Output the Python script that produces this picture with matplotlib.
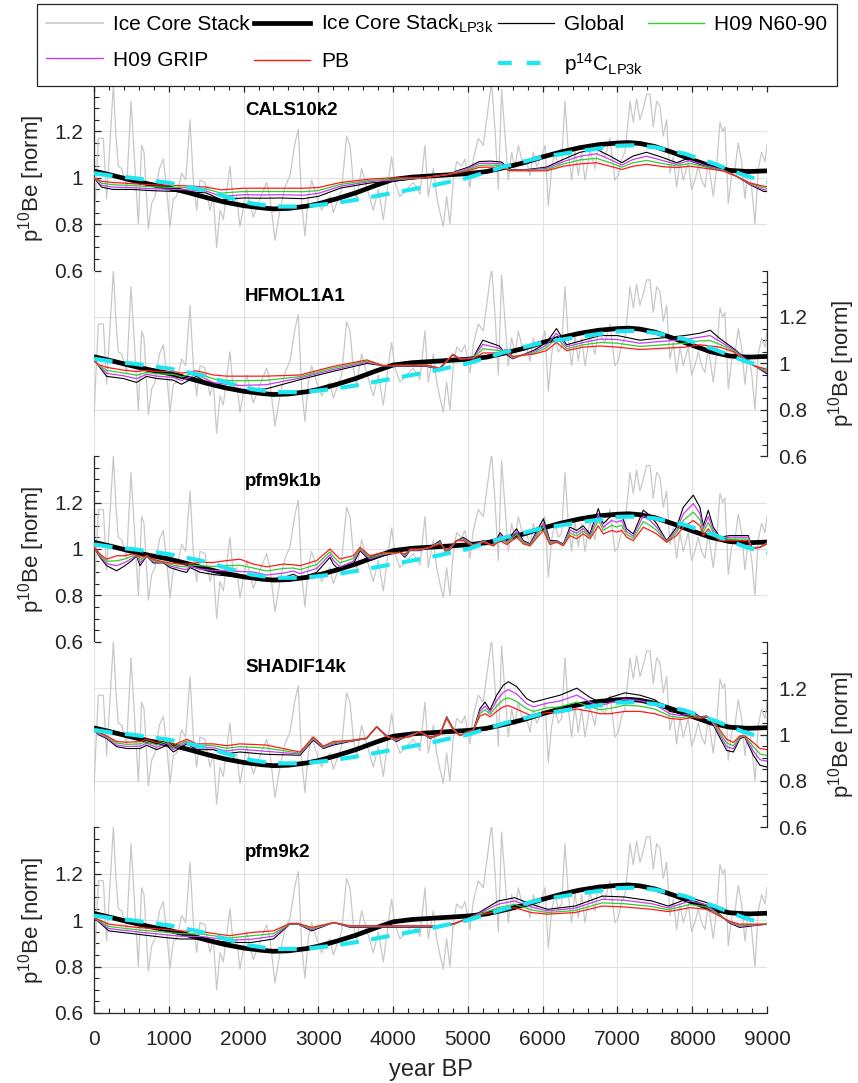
import matplotlib
matplotlib.use('Agg')
import matplotlib.pyplot as plt
from matplotlib.ticker import MultipleLocator, FixedLocator
from matplotlib.lines import Line2D

plt.rcParams['font.family'] = ['Liberation Sans', 'DejaVu Sans']
plt.rcParams['mathtext.fontset'] = 'custom'
plt.rcParams['mathtext.rm'] = 'Liberation Sans'
plt.rcParams['mathtext.it'] = 'Liberation Sans:italic'
plt.rcParams['mathtext.bf'] = 'Liberation Sans:bold'

# ---------------- data ----------------
stack_yr = [0, 25, 58, 125, 169, 259, 294, 325, 370, 437, 495, 548, 593, 637, 669, 727, 771, 816, 874, 927,
            972, 1016, 1061, 1105, 1172, 1226, 1284, 1328, 1373, 1417, 1484, 1551, 1596, 1640, 1685, 1729,
            1818, 1863, 1908, 1952, 2041, 2130, 2220, 2309, 2353, 2420, 2487, 2554, 2621, 2688, 2732, 2777,
            2821, 2866, 2910, 2977, 3044, 3089, 3156, 3200, 3245, 3312, 3378, 3423, 3468, 3512, 3579, 3646,
            3735, 3802, 3869, 3936, 3980, 4025, 4091, 4181, 4270, 4359, 4426, 4470, 4538, 4582, 4627, 4671,
            4716, 4760, 4805, 4850, 4916, 4961, 5028, 5072, 5139, 5206, 5251, 5295, 5318, 5362, 5407, 5451,
            5496, 5540, 5585, 5630, 5674, 5719, 5786, 5830, 5875, 5919, 5986, 6031, 6075, 6120, 6164, 6209,
            6254, 6298, 6343, 6387, 6432, 6476, 6521, 6566, 6632, 6699, 6744, 6788, 6833, 6900, 6967, 7011,
            7056, 7100, 7145, 7167, 7212, 7256, 7301, 7345, 7390, 7435, 7479, 7524, 7568, 7613, 7657, 7702,
            7747, 7791, 7836, 7880, 7947, 7992, 8036, 8081, 8125, 8170, 8215, 8281, 8326, 8371, 8406, 8437,
            8482, 8527, 8571, 8616, 8660, 8705, 8750, 8794, 8839, 8883, 8928, 8973, 9000]
stack_val = [0.77, 0.95, 1.17, 1.17, 0.91, 1.40, 1.18, 1.05, 1.04, 0.96, 1.33, 1.04, 0.80, 1.14, 1.11, 0.78, 0.89, 0.92, 1.04, 1.08,
             0.95, 0.79, 0.91, 0.92, 1.02, 0.99, 1.25, 0.99, 0.86, 0.99, 0.98, 0.86, 0.92, 0.70, 0.86, 0.82,
             1.05, 0.89, 0.92, 0.79, 0.95, 0.83, 0.91, 0.98, 0.92, 0.73, 0.86, 0.96, 1.01, 1.15, 1.21, 0.89,
             0.75, 0.92, 0.99, 0.92, 0.86, 0.89, 0.92, 0.85, 0.89, 0.95, 1.18, 1.14, 0.98, 0.91, 1.04, 0.96,
             0.86, 0.95, 0.82, 0.99, 1.09, 0.98, 0.92, 0.95, 0.98, 0.93, 1.14, 0.92, 1.04, 0.92, 0.85, 0.79,
             0.92, 0.80, 0.99, 1.07, 1.05, 1.08, 0.96, 1.08, 1.17, 1.14, 1.25, 1.36, 1.41, 1.21, 0.95, 1.38,
             1.18, 0.99, 1.11, 1.04, 1.14, 1.08, 1.07, 1.01, 1.11, 1.05, 1.09, 1.14, 0.88, 1.04, 1.11, 1.05,
             1.07, 1.33, 1.11, 0.99, 1.12, 1.01, 1.11, 0.99, 1.12, 1.04, 1.14, 1.11, 1.09, 1.17, 0.99, 1.01,
             1.08, 1.11, 1.25, 1.33, 1.24, 1.34, 1.25, 1.30, 1.36, 1.36, 1.22, 1.33, 1.31, 1.18, 1.25, 1.02,
             1.09, 0.96, 1.07, 0.99, 1.07, 0.95, 0.99, 1.05, 0.99, 0.96, 1.07, 0.92, 1.04, 1.24, 1.20, 1.22,
             0.89, 1.01, 1.04, 1.15, 1.07, 0.91, 1.04, 0.96, 0.80, 1.04, 1.11, 1.07, 1.14]

lp3k_yr = [0, 250, 500, 750, 1000, 1250, 1500, 1750, 2000, 2250, 2400, 2600, 2850, 3000, 3250, 3500, 3750,
           4000, 4250, 4500, 4750, 5000, 5250, 5500, 5750, 6000, 6250, 6500, 6750, 7000, 7150, 7300, 7500,
           7750, 8000, 8250, 8500, 8750, 9000]
lp3k_val = [1.029, 1.01, 0.99, 0.972, 0.957, 0.937, 0.915, 0.895, 0.88, 0.87, 0.866, 0.868, 0.878, 0.888,
            0.91, 0.935, 0.965, 0.993, 1.003, 1.008, 1.013, 1.018, 1.027, 1.045, 1.065, 1.09, 1.112, 1.13,
            1.143, 1.15, 1.152, 1.148, 1.135, 1.108, 1.078, 1.05, 1.032, 1.027, 1.03]

c14_yr = [0, 250, 500, 1000, 1500, 1800, 2100, 2400, 2800, 3200, 3500, 4000, 4500, 5000, 5500, 6000, 6500,
          7000, 7200, 7500, 7900, 8300, 8700, 9000]
c14_val = [1.02, 1.008, 1.0, 0.978, 0.945, 0.915, 0.89, 0.876, 0.876, 0.89, 0.905, 0.935, 0.965, 1.0, 1.05,
           1.09, 1.115, 1.138, 1.14, 1.132, 1.104, 1.06, 1.01, 0.983]

# CALS10k2
cals_yr = [0, 100, 250, 500, 750, 1000, 1250, 1500, 1700, 2000, 2250, 2500, 2800, 3000, 3300, 3700, 4000, 4400,
           4750, 4850, 5000, 5150, 5300, 5450, 5560, 5800, 6050, 6280, 6500, 6720, 6900, 7060, 7210, 7390,
           7610, 7790, 7970, 8190, 8410, 8590, 8770, 8950, 9000]
cals_glob = [1.0, 0.96, 0.95, 0.95, 0.945, 0.942, 0.94, 0.935, 0.906, 0.913, 0.912, 0.913, 0.91, 0.92, 0.956,
             0.978, 0.985, 1.0, 1.015, 1.03, 1.045, 1.07, 1.072, 1.068, 1.035, 1.036, 1.046, 1.08, 1.11, 1.123,
             1.094, 1.065, 1.094, 1.11, 1.087, 1.065, 1.087, 1.058, 1.036, 1.007, 0.971, 0.942, 0.94]
cals_grip = [1.0, 0.968, 0.96, 0.958, 0.953, 0.951, 0.948, 0.943, 0.92, 0.927, 0.926, 0.927, 0.925, 0.933, 0.964,
             0.984, 0.99, 1.0, 1.015, 1.027, 1.04, 1.062, 1.063, 1.06, 1.033, 1.034, 1.041, 1.07, 1.093, 1.104,
             1.079, 1.055, 1.079, 1.093, 1.074, 1.058, 1.075, 1.052, 1.034, 1.007, 0.973, 0.949, 0.947]
cals_n60 = [1.0, 0.977, 0.97, 0.967, 0.962, 0.959, 0.957, 0.952, 0.934, 0.941, 0.941, 0.941, 0.94, 0.945, 0.972,
            0.989, 0.995, 1.0, 1.015, 1.023, 1.035, 1.053, 1.055, 1.053, 1.032, 1.032, 1.035, 1.06, 1.077, 1.084,
            1.065, 1.046, 1.065, 1.075, 1.061, 1.051, 1.062, 1.046, 1.032, 1.007, 0.976, 0.957, 0.955]
cals_pb = [1.0, 0.985, 0.98, 0.975, 0.97, 0.968, 0.965, 0.96, 0.948, 0.955, 0.955, 0.955, 0.955, 0.958, 0.98,
           0.995, 1.0, 1.0, 1.015, 1.02, 1.03, 1.045, 1.046, 1.045, 1.03, 1.03, 1.03, 1.05, 1.06, 1.065, 1.05,
           1.036, 1.05, 1.058, 1.048, 1.044, 1.05, 1.04, 1.03, 1.007, 0.978, 0.964, 0.962]

# HFMOL1A1
hfm_yr = [0, 60, 170, 390, 570, 700, 840, 1060, 1170, 1370, 1600, 1775, 1950, 2300, 2755, 3200, 3650, 3870, 4090,
          4450, 4620, 4800, 4890, 5070, 5200, 5420, 5510, 5600, 5880, 6050, 6185, 6320, 6540, 6770, 7000, 7300,
          7600, 7900, 8100, 8240, 8370, 8550, 8680, 8820, 9000]
hfm_glob = [1.02, 0.99, 0.944, 0.935, 0.918, 0.944, 0.935, 0.928, 0.91, 0.944, 0.90, 0.892, 0.885, 0.89, 0.93,
            0.966, 1.0, 0.99, 0.987, 0.987, 0.975, 1.04, 1.02, 1.025, 1.10, 1.075, 1.04, 1.02, 1.056, 1.09, 1.15,
            1.08, 1.10, 1.12, 1.12, 1.10, 1.11, 1.12, 1.13, 1.143, 1.107, 1.065, 1.03, 0.993, 0.955]
hfm_grip = [1.017, 0.992, 0.957, 0.947, 0.934, 0.953, 0.945, 0.94, 0.926, 0.952, 0.917, 0.91, 0.905, 0.908, 0.937,
            0.973, 1.005, 0.99, 0.989, 0.989, 0.977, 1.039, 1.02, 1.023, 1.082, 1.065, 1.047, 1.023, 1.051, 1.078,
            1.13, 1.072, 1.09, 1.105, 1.103, 1.087, 1.095, 1.103, 1.113, 1.12, 1.095, 1.06, 1.027, 0.992, 0.962]
hfm_n60 = [1.013, 0.993, 0.97, 0.959, 0.949, 0.961, 0.955, 0.953, 0.942, 0.96, 0.933, 0.927, 0.925, 0.927, 0.943,
           0.98, 1.01, 0.99, 0.991, 0.991, 0.978, 1.037, 1.02, 1.022, 1.063, 1.055, 1.053, 1.027, 1.045, 1.067,
           1.11, 1.063, 1.08, 1.09, 1.087, 1.073, 1.08, 1.087, 1.097, 1.098, 1.082, 1.055, 1.023, 0.991, 0.968]
hfm_pb = [1.01, 0.995, 0.983, 0.971, 0.965, 0.97, 0.965, 0.965, 0.958, 0.968, 0.95, 0.945, 0.945, 0.945, 0.95,
          0.987, 1.015, 0.99, 0.993, 0.993, 0.98, 1.036, 1.02, 1.02, 1.045, 1.045, 1.06, 1.03, 1.04, 1.055, 1.09,
          1.055, 1.07, 1.075, 1.07, 1.06, 1.065, 1.07, 1.08, 1.075, 1.07, 1.05, 1.02, 0.99, 0.975]

# pfm9k1b
p1b_yr = [0, 80, 169, 303, 414, 504, 570, 615, 704, 793, 927, 1016, 1150, 1239, 1284, 1417, 1596, 1774, 1952, 2130,
          2309, 2532, 2665, 2754, 2977, 3156, 3200, 3289, 3468, 3557, 3690, 3869, 4091, 4158, 4225, 4359, 4493,
          4627, 4716, 4850, 4939, 5072, 5206, 5340, 5429, 5518, 5652, 5741, 5830, 6009, 6098, 6187, 6276, 6365,
          6454, 6543, 6632, 6744, 6810, 6922, 6989, 7056, 7123, 7212, 7345, 7435, 7524, 7657, 7791, 7880, 8014,
          8103, 8148, 8215, 8281, 8371, 8504, 8638, 8750, 8794, 8905, 9000]
p1b_glob = [1.007, 0.964, 0.928, 0.906, 0.928, 0.95, 0.97, 0.928, 0.97, 0.94, 0.94, 0.92, 0.906, 0.899, 0.92, 0.90,
            0.89, 0.884, 0.877, 0.884, 0.87, 0.877, 0.891, 0.877, 0.899, 0.964, 0.935, 0.906, 0.935, 0.993, 0.95,
            0.971, 0.986, 0.964, 0.993, 0.993, 1.007, 1.036, 0.978, 1.036, 1.05, 1.022, 1.036, 1.014, 1.07, 1.036,
            1.087, 1.036, 1.022, 1.13, 1.036, 1.036, 1.022, 1.094, 1.08, 1.10, 1.065, 1.174, 1.109, 1.145, 1.138,
            1.145, 1.087, 1.065, 1.167, 1.145, 1.109, 1.036, 1.094, 1.18, 1.232, 1.18, 1.10, 1.167, 1.094, 1.051,
            1.058, 1.058, 1.058, 1.007, 1.007, 1.029]
p1b_grip = [1.008, 0.969, 0.937, 0.928, 0.942, 0.959, 0.972, 0.94, 0.97, 0.945, 0.942, 0.927, 0.916, 0.911, 0.926,
            0.914, 0.907, 0.906, 0.903, 0.901, 0.888, 0.896, 0.905, 0.894, 0.916, 0.976, 0.952, 0.923, 0.947, 0.998,
            0.957, 0.976, 0.986, 0.969, 0.995, 0.995, 1.007, 1.031, 0.983, 1.036, 1.045, 1.018, 1.034, 1.014, 1.059,
            1.03, 1.075, 1.031, 1.019, 1.113, 1.03, 1.034, 1.019, 1.082, 1.068, 1.088, 1.058, 1.149, 1.094, 1.123,
            1.116, 1.123, 1.075, 1.055, 1.143, 1.123, 1.094, 1.034, 1.082, 1.151, 1.196, 1.153, 1.086, 1.14, 1.082,
            1.046, 1.051, 1.051, 1.051, 1.005, 1.007, 1.027]
p1b_n60 = [1.009, 0.973, 0.947, 0.949, 0.957, 0.969, 0.973, 0.952, 0.971, 0.95, 0.943, 0.933, 0.925, 0.923, 0.931,
           0.928, 0.925, 0.928, 0.93, 0.918, 0.905, 0.916, 0.918, 0.911, 0.933, 0.988, 0.968, 0.94, 0.959, 1.002,
           0.964, 0.98, 0.985, 0.973, 0.998, 0.998, 1.007, 1.027, 0.988, 1.036, 1.041, 1.014, 1.031, 1.014, 1.047,
           1.025, 1.063, 1.027, 1.017, 1.097, 1.025, 1.031, 1.017, 1.07, 1.056, 1.077, 1.051, 1.125, 1.08, 1.102,
           1.095, 1.102, 1.063, 1.046, 1.118, 1.102, 1.08, 1.031, 1.07, 1.123, 1.159, 1.127, 1.072, 1.114, 1.07,
           1.041, 1.043, 1.043, 1.043, 1.002, 1.007, 1.024]
p1b_pb = [1.01, 0.978, 0.956, 0.971, 0.971, 0.978, 0.975, 0.964, 0.971, 0.955, 0.945, 0.94, 0.935, 0.935, 0.937,
          0.942, 0.942, 0.95, 0.956, 0.935, 0.923, 0.935, 0.932, 0.928, 0.95, 1.0, 0.985, 0.957, 0.971, 1.007,
          0.971, 0.985, 0.985, 0.978, 1.0, 1.0, 1.007, 1.022, 0.993, 1.036, 1.036, 1.01, 1.029, 1.014, 1.036,
          1.019, 1.051, 1.022, 1.014, 1.08, 1.019, 1.029, 1.014, 1.058, 1.044, 1.065, 1.044, 1.10, 1.065, 1.08,
          1.073, 1.08, 1.051, 1.036, 1.094, 1.08, 1.065, 1.029, 1.058, 1.094, 1.123, 1.10, 1.058, 1.087, 1.058,
          1.036, 1.036, 1.036, 1.036, 1.0, 1.007, 1.022]

# SHADIF14k
sha_yr = [0, 58, 169, 303, 437, 615, 704, 838, 972, 1061, 1239, 1373, 1596, 1774, 1950, 2300, 2755, 2933, 3067,
          3200, 3423, 3646, 3780, 3914, 4047, 4225, 4359, 4493, 4627, 4716, 4805, 4894, 4984, 5073, 5162, 5229,
          5296, 5385, 5474, 5541, 5652, 5786, 5876, 6054, 6233, 6456, 6634, 6767, 6900, 7100, 7300, 7500, 7700,
          7850, 8000, 8104, 8193, 8238, 8327, 8460, 8550, 8639, 8700, 8817, 8906, 9000]
sha_glob = [1.02, 1.0, 0.983, 0.948, 0.94, 0.94, 0.954, 0.935, 0.954, 0.925, 0.96, 0.935, 0.935, 0.918, 0.925,
            0.915, 0.911, 0.976, 0.94, 0.955, 0.97, 0.983, 1.034, 0.996, 0.97, 1.0, 1.013, 0.983, 1.0, 1.077,
            1.026, 0.996, 1.01, 1.019, 1.112, 1.14, 1.106, 1.17, 1.213, 1.228, 1.207, 1.155, 1.14, 1.155, 1.17,
            1.20, 1.16, 1.14, 1.16, 1.18, 1.17, 1.15, 1.10, 1.09, 1.10, 1.077, 1.08, 1.069, 1.013, 0.932, 0.925,
            0.983, 0.99, 0.911, 0.868, 0.86]
sha_grip = [1.02, 1.004, 0.987, 0.955, 0.949, 0.95, 0.963, 0.945, 0.963, 0.935, 0.967, 0.943, 0.943, 0.929, 0.937,
            0.928, 0.916, 0.981, 0.943, 0.96, 0.972, 0.984, 1.034, 0.994, 0.974, 0.997, 1.013, 0.985, 1.0, 1.075,
            1.024, 0.996, 1.01, 1.019, 1.101, 1.123, 1.096, 1.147, 1.182, 1.194, 1.175, 1.133, 1.12, 1.135, 1.145,
            1.17, 1.14, 1.123, 1.137, 1.153, 1.147, 1.13, 1.09, 1.082, 1.092, 1.075, 1.078, 1.069, 1.022, 0.948,
            0.939, 0.987, 0.992, 0.929, 0.892, 0.885]
sha_n60 = [1.02, 1.008, 0.991, 0.963, 0.958, 0.96, 0.971, 0.955, 0.971, 0.944, 0.973, 0.952, 0.952, 0.941, 0.948,
           0.942, 0.92, 0.985, 0.947, 0.965, 0.973, 0.984, 1.034, 0.992, 0.979, 0.993, 1.013, 0.988, 1.0, 1.072,
           1.022, 0.996, 1.01, 1.02, 1.091, 1.107, 1.087, 1.123, 1.151, 1.159, 1.142, 1.112, 1.10, 1.115, 1.12,
           1.14, 1.12, 1.107, 1.113, 1.127, 1.123, 1.11, 1.08, 1.073, 1.083, 1.072, 1.077, 1.069, 1.031, 0.964,
           0.952, 0.991, 0.993, 0.948, 0.916, 0.91]
sha_pb = [1.02, 1.012, 0.995, 0.97, 0.967, 0.97, 0.98, 0.965, 0.98, 0.954, 0.98, 0.96, 0.96, 0.952, 0.96, 0.955,
          0.925, 0.99, 0.95, 0.97, 0.975, 0.985, 1.034, 0.99, 0.983, 0.99, 1.013, 0.99, 1.0, 1.07, 1.02, 0.996,
          1.01, 1.02, 1.08, 1.09, 1.077, 1.10, 1.12, 1.125, 1.11, 1.09, 1.08, 1.095, 1.095, 1.11, 1.10, 1.09,
          1.09, 1.10, 1.10, 1.09, 1.07, 1.065, 1.075, 1.07, 1.075, 1.069, 1.04, 0.98, 0.966, 0.995, 0.995, 0.966,
          0.94, 0.935]

# pfm9k2
p2_yr = [0, 198, 565, 931, 1152, 1445, 1812, 2105, 2399, 2619, 2729, 2912, 3205, 3425, 3865, 4599, 4819, 5113,
         5406, 5626, 5846, 6066, 6433, 6800, 7093, 7459, 7679, 7973, 8193, 8487, 8633, 9000]
p2_glob = [1.011, 0.954, 0.94, 0.926, 0.919, 0.919, 0.904, 0.904, 0.919, 0.983, 0.983, 0.954, 0.99, 0.969, 0.969,
           0.969, 0.983, 1.026, 1.083, 1.097, 1.069, 1.047, 1.061, 1.104, 1.1, 1.083, 1.061, 1.097, 1.076, 0.99,
           0.969, 0.983]
p2_grip = [1.011, 0.964, 0.95, 0.938, 0.931, 0.929, 0.914, 0.918, 0.931, 0.984, 0.984, 0.959, 0.99, 0.971, 0.971,
           0.971, 0.984, 1.024, 1.069, 1.083, 1.057, 1.04, 1.052, 1.09, 1.086, 1.071, 1.053, 1.083, 1.066, 0.992,
           0.974, 0.983]
p2_n60 = [1.011, 0.973, 0.959, 0.949, 0.942, 0.94, 0.923, 0.933, 0.942, 0.985, 0.985, 0.964, 0.99, 0.974, 0.974,
          0.974, 0.985, 1.021, 1.054, 1.068, 1.045, 1.033, 1.042, 1.075, 1.071, 1.059, 1.045, 1.068, 1.057, 0.995,
          0.978, 0.983]
p2_pb = [1.011, 0.983, 0.969, 0.961, 0.954, 0.95, 0.933, 0.947, 0.954, 0.986, 0.986, 0.969, 0.99, 0.976, 0.976,
         0.976, 0.986, 1.019, 1.04, 1.054, 1.033, 1.026, 1.033, 1.061, 1.057, 1.047, 1.037, 1.054, 1.047, 0.997,
         0.983, 0.983]

panel_names = ['CALS10k2', 'HFMOL1A1', 'pfm9k1b', 'SHADIF14k', 'pfm9k2']
panels = [
    (cals_yr, cals_glob, cals_grip, cals_n60, cals_pb),
    (hfm_yr, hfm_glob, hfm_grip, hfm_n60, hfm_pb),
    (p1b_yr, p1b_glob, p1b_grip, p1b_n60, p1b_pb),
    (sha_yr, sha_glob, sha_grip, sha_n60, sha_pb),
    (p2_yr, p2_glob, p2_grip, p2_n60, p2_pb),
]
yticks = [0.6, 0.8, 1.0, 1.2]
ytick_labels = ['0.6', '0.8', '1', '1.2']
xticks = [0, 1000, 2000, 3000, 4000, 5000, 6000, 7000, 8000, 9000]

# ---------------- styles ----------------
C_STACK = '#c8c8c8'
C_GLOB = '#000000'
C_N60 = '#33cc33'
C_GRIP = '#c83cf0'
C_PB = '#ff1a1a'
C_C14 = '#1ee6f0'
AX_COL = '#262626'
GRID_COL = '#e2e2e2'
FS = 15

W_PX, H_PX = 858, 1083
fig = plt.figure(figsize=(W_PX / 100, H_PX / 100), dpi=100)
left = 94 / W_PX
width = 673 / W_PX
ph = 185.6
top0 = 85.0

ylab = r'p$^{10}$Be [norm]'
YLAB_FS = 16

for k, (name, data) in enumerate(zip(panel_names, panels)):
    yrs, glob, grip, n60, pb = data
    bottom_px = top0 + ph * (k + 1)
    ax = fig.add_axes([left, 1 - bottom_px / H_PX, width, ph / H_PX])
    ax.patch.set_alpha(0)
    ax.set_xlim(0, 9000)
    ax.set_ylim(0.6, 1.4)

    ax.plot(stack_yr, stack_val, color=C_STACK, lw=0.9, zorder=2)
    ax.plot(lp3k_yr, lp3k_val, color='black', lw=3.4, zorder=3, solid_capstyle='butt')
    ax.plot(yrs, glob, color=C_GLOB, lw=0.8, zorder=4)
    ax.plot(yrs, grip, color=C_GRIP, lw=0.9, zorder=4)
    ax.plot(yrs, n60, color=C_N60, lw=0.9, zorder=4)
    ax.plot(yrs, pb, color=C_PB, lw=0.9, zorder=4)
    ax.plot(c14_yr, c14_val, color=C_C14, lw=3.0, ls=(0, (4.5, 3.0)), zorder=5)

    ax.text(2020, 1.29, name, ha='left', va='center', fontsize=13.5, fontweight='bold', color='black')

    # grid
    ax.xaxis.set_major_locator(FixedLocator(xticks))
    ax.xaxis.set_minor_locator(MultipleLocator(200))
    ax.yaxis.set_major_locator(FixedLocator(yticks))
    ax.yaxis.set_minor_locator(MultipleLocator(0.05))
    ax.grid(True, which='major', color=GRID_COL, lw=0.8, zorder=0)
    ax.set_axisbelow(True)

    for s in ax.spines.values():
        s.set_visible(False)
        s.set_color(AX_COL)
        s.set_linewidth(0.9)

    right_side = (k % 2 == 1)
    if right_side:
        ax.spines['right'].set_visible(True)
        ax.yaxis.tick_right()
        ax.yaxis.set_label_position('right')
        ax.tick_params(axis='y', which='both', direction='in', left=False, right=True,
                       labelleft=False, labelright=True, colors=AX_COL, labelcolor=AX_COL,
                       labelsize=FS, pad=8)
        ax.set_ylabel(ylab, fontsize=YLAB_FS, color=AX_COL)
        ax.yaxis.set_label_coords(1.088, 0.5)
    else:
        ax.spines['left'].set_visible(True)
        ax.tick_params(axis='y', which='both', direction='in', left=True, right=False,
                       labelleft=True, labelright=False, colors=AX_COL, labelcolor=AX_COL,
                       labelsize=FS, pad=8)
        ax.set_ylabel(ylab, fontsize=YLAB_FS, color=AX_COL)
        ax.yaxis.set_label_coords(-0.07, 0.5)
    ax.set_yticklabels(ytick_labels)
    ax.tick_params(axis='y', which='major', length=5, width=0.9)
    ax.tick_params(axis='y', which='minor', length=3.5, width=0.8)

    if k == 4:
        ax.spines['bottom'].set_visible(True)
        ax.tick_params(axis='x', which='both', direction='in', bottom=True, top=False,
                       labelbottom=True, colors=AX_COL, labelcolor=AX_COL, labelsize=FS, pad=12)
        ax.tick_params(axis='x', which='major', length=5, width=0.9)
        ax.tick_params(axis='x', which='minor', length=3.5, width=0.8)
        ax.set_xlabel('year BP', fontsize=17, color=AX_COL)
        ax.xaxis.set_label_coords(0.5, -0.25)
    elif k == 0:
        ax.tick_params(axis='x', which='both', direction='in', bottom=False, top=True,
                       labelbottom=False, labeltop=False, colors=AX_COL)
        ax.tick_params(axis='x', which='major', length=5, width=0.9)
        ax.tick_params(axis='x', which='minor', length=3.5, width=0.8)
    else:
        ax.tick_params(axis='x', which='both', bottom=False, top=False,
                       labelbottom=False, labeltop=False)

# ---------------- legend ----------------
h_stack = Line2D([], [], color=C_STACK, lw=1.2)
h_lp = Line2D([], [], color='black', lw=3.4)
h_glob = Line2D([], [], color=C_GLOB, lw=0.9)
h_n60 = Line2D([], [], color=C_N60, lw=1.0)
h_grip = Line2D([], [], color=C_GRIP, lw=1.0)
h_pb = Line2D([], [], color=C_PB, lw=1.0)
h_c14 = Line2D([], [], color=C_C14, lw=3.0, ls=(0, (3.3, 3.6)))

handles = [h_stack, h_grip, h_lp, h_pb, h_glob, h_c14, h_n60]
labels = ['Ice Core Stack', 'H09 GRIP', r'Ice Core Stack$_{\mathrm{LP3k}}$', 'PB', 'Global',
          r'p$^{14}$C$_{\mathrm{LP3k}}$', 'H09 N60-90']

leg = fig.legend(handles, labels, ncol=4, loc='lower left',
                 bbox_to_anchor=(37 / W_PX, 1 - 86 / H_PX, 800 / W_PX, 84 / H_PX),
                 mode='expand', borderaxespad=0, fontsize=FS, frameon=True, fancybox=False,
                 edgecolor=AX_COL, framealpha=1, handlelength=2.7, handletextpad=0.5,
                 columnspacing=0.6, labelspacing=0.8, borderpad=0.45)
leg.get_frame().set_linewidth(0.9)
for t in leg.get_texts():
    t.set_color('black')

fig.savefig('out.png', dpi=100)
